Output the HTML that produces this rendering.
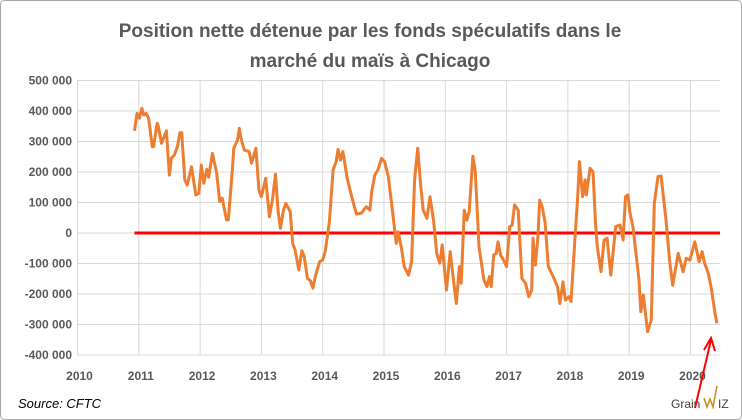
<!DOCTYPE html>
<html><head><meta charset="utf-8"><style>
body{margin:0;background:#fff}
#wrap{position:relative;width:742px;height:420px;overflow:hidden}
svg text{font-family:"Liberation Sans",sans-serif}
</style></head><body>
<div id="wrap">
<svg id="chart" width="742" height="420">
<rect x="0.5" y="0.5" width="741" height="419" rx="4" fill="#fff" stroke="#a6a6a6"/>
<text x="370" y="37" text-anchor="middle" font-size="19" font-weight="bold" fill="#595959">Position nette détenue par les fonds spéculatifs dans le</text>
<text x="370" y="67" text-anchor="middle" font-size="19" font-weight="bold" fill="#595959">marché du maïs à Chicago</text>
<g id="grid"></g><g id="ylabels"></g><g id="xlabels"></g>
<line id="zero" stroke="#ff0000" stroke-width="3"/>
<path id="series" fill="none" stroke="#ed7d31" stroke-width="3" stroke-linejoin="round"/>
<text x="18" y="408" font-size="13" font-style="italic" fill="#000">Source: CFTC</text>
<g>
<text x="671" y="408" font-size="12" fill="#404040">Grain</text><text x="718" y="408" font-size="12" fill="#404040">IZ</text>
<path d="M704 398 L707 407 L710 399 L713 407 L717 386" fill="none" stroke="#c8902a" stroke-width="1.6"/>
</g>
<g>
<line x1="695" y1="408" x2="711" y2="340" stroke="#ff0000" stroke-width="2"/>
<path d="M704 350 L711 338 L715 351" fill="none" stroke="#ff0000" stroke-width="2"/>
</g>
</svg></div>
<script>
const yTicks=[500000,400000,300000,200000,100000,0,-100000,-200000,-300000,-400000];
const yTickLabels=["500 000","400 000","300 000","200 000","100 000","0","-100 000","-200 000","-300 000","-400 000"];
const xTicks=[2010,2011,2012,2013,2014,2015,2016,2017,2018,2019,2020];
const dates=[2010.93,2010.97,2011.01,2011.05,2011.08,2011.12,2011.16,2011.22,2011.24,2011.30,2011.32,2011.37,2011.45,2011.50,2011.53,2011.58,2011.63,2011.67,2011.70,2011.75,2011.79,2011.86,2011.93,2011.98,2012.02,2012.06,2012.11,2012.14,2012.20,2012.27,2012.32,2012.36,2012.43,2012.46,2012.53,2012.55,2012.61,2012.64,2012.66,2012.72,2012.80,2012.84,2012.91,2012.96,2013.00,2013.07,2013.13,2013.18,2013.23,2013.27,2013.31,2013.36,2013.40,2013.47,2013.51,2013.55,2013.61,2013.66,2013.70,2013.75,2013.80,2013.84,2013.88,2013.95,2014.00,2014.04,2014.11,2014.17,2014.22,2014.25,2014.29,2014.33,2014.40,2014.48,2014.55,2014.63,2014.71,2014.77,2014.80,2014.85,2014.90,2014.96,2015.01,2015.07,2015.13,2015.20,2015.23,2015.28,2015.33,2015.40,2015.45,2015.50,2015.55,2015.60,2015.64,2015.70,2015.75,2015.81,2015.86,2015.91,2015.95,2016.02,2016.08,2016.12,2016.18,2016.23,2016.26,2016.31,2016.35,2016.39,2016.45,2016.49,2016.55,2016.63,2016.68,2016.72,2016.75,2016.79,2016.83,2016.86,2016.90,2016.95,2017.00,2017.05,2017.09,2017.13,2017.19,2017.25,2017.31,2017.36,2017.41,2017.43,2017.47,2017.51,2017.54,2017.58,2017.63,2017.68,2017.76,2017.83,2017.87,2017.92,2017.96,2018.02,2018.05,2018.12,2018.16,2018.19,2018.24,2018.28,2018.30,2018.36,2018.41,2018.45,2018.48,2018.54,2018.59,2018.64,2018.70,2018.78,2018.85,2018.90,2018.94,2018.98,2019.01,2019.06,2019.16,2019.19,2019.23,2019.30,2019.36,2019.41,2019.47,2019.52,2019.60,2019.66,2019.71,2019.80,2019.88,2019.93,2019.99,2020.07,2020.14,2020.19,2020.23,2020.29,2020.34,2020.40,2020.43];
const values=[335,392,376,409,387,392,376,283,283,360,349,294,335,190,245,256,283,329,329,174,157,217,125,130,223,163,209,183,261,196,103,114,43,43,217,278,305,343,316,272,267,229,278,141,119,179,53,108,193,75,15,75,97,70,-34,-56,-121,-58,-78,-149,-156,-181,-143,-94,-89,-61,37,207,234,274,239,267,179,114,62,65,86,75,135,190,207,245,234,185,86,-34,4,-45,-110,-138,-94,174,278,152,75,48,119,37,-67,-99,-39,-187,-61,-132,-231,-110,-165,75,42,70,252,201,-45,-154,-176,-143,-176,-72,-67,-29,-72,-89,-110,21,26,92,75,-149,-165,-209,-187,-17,-105,-12,108,86,32,-110,-143,-176,-231,-160,-220,-209,-225,-1,119,234,119,174,125,212,201,32,-45,-127,-23,-17,-138,21,26,-23,119,125,70,21,-154,-258,-203,-324,-285,97,185,187,43,-94,-171,-67,-127,-83,-89,-29,-94,-61,-99,-132,-181,-263,-296];
const X0=77.5,XS=61.3,Y0=233,YS=30.5/100000,L=77,R=720;
const x=t=>X0+(t-2010)*XS, y=v=>Y0-v*YS;
const ns="http://www.w3.org/2000/svg";
const g=document.getElementById('grid'),yl=document.getElementById('ylabels'),xl=document.getElementById('xlabels');
yTicks.forEach((v,i)=>{
 const l=document.createElementNS(ns,'line');
 l.setAttribute('x1',L);l.setAttribute('x2',R);l.setAttribute('y1',y(v));l.setAttribute('y2',y(v));
 l.setAttribute('stroke','#d9d9d9');
 
 
 g.appendChild(l);
 const t=document.createElementNS(ns,'text');
 t.setAttribute('x',72);t.setAttribute('y',y(v)+4);t.setAttribute('text-anchor','end');
 t.setAttribute('font-size','12');t.setAttribute('font-weight','bold');t.setAttribute('fill','#595959');
 t.textContent=yTickLabels[i];
 
 
 yl.appendChild(t);
});
xTicks.forEach(yr=>{
 const l=document.createElementNS(ns,'line');
 l.setAttribute('x1',x(yr));l.setAttribute('x2',x(yr));l.setAttribute('y1',y(500000));l.setAttribute('y2',y(-400000));
 l.setAttribute('stroke','#d9d9d9');
 
 
 g.appendChild(l);
 const t=document.createElementNS(ns,'text');
 t.setAttribute('x',x(yr)+2);t.setAttribute('y',380);t.setAttribute('text-anchor','middle');
 t.setAttribute('font-size','12');t.setAttribute('font-weight','bold');t.setAttribute('fill','#595959');
 t.textContent=yr;
 
 
 xl.appendChild(t);
});
const z=document.getElementById('zero');
z.setAttribute('x1',x(dates[0]));z.setAttribute('x2',R);z.setAttribute('y1',y(0));z.setAttribute('y2',y(0));
document.getElementById('series').setAttribute('d',dates.map((d,i)=>(i?'L':'M')+x(d).toFixed(1)+' '+y(values[i]*1000).toFixed(1)).join(' '));
</script>
</body></html>
